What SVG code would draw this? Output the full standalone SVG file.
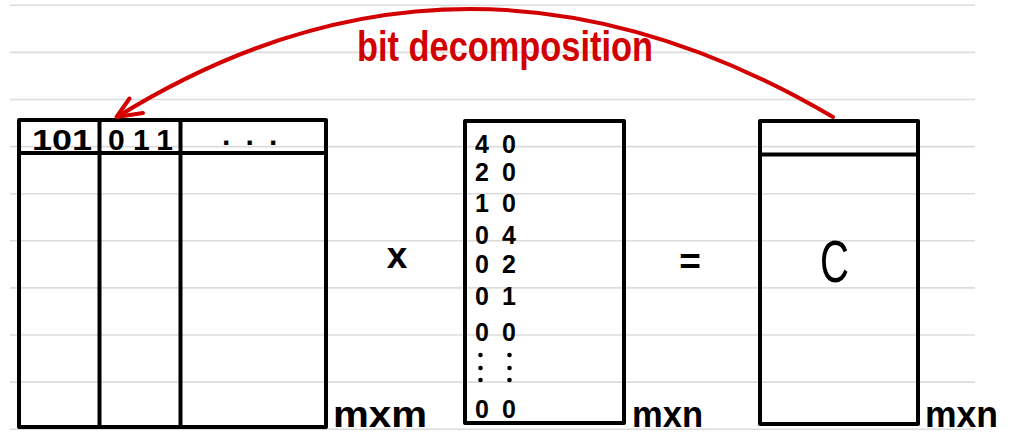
<svg xmlns="http://www.w3.org/2000/svg" width="1010" height="435" viewBox="0 0 1010 435">
<style>
.bg{stroke:#dcdcdc;stroke-width:1.6;fill:none}
.box{fill:none;stroke:#000;stroke-width:4;stroke-linejoin:round;stroke-linecap:round}
.dig{font-family:"Liberation Sans",Arial,sans-serif;font-weight:bold;fill:#000}
.lbl{font-family:"Liberation Sans",Arial,sans-serif;font-weight:bold;fill:#000;font-size:37px}
.dot{fill:#000}
.red{stroke:#d20000;fill:none;stroke-width:4;stroke-linecap:round;stroke-linejoin:round}
.redt{font-family:"Liberation Sans",Arial,sans-serif;font-weight:bold;fill:#d20000;font-size:43px}
</style>
<rect width="1010" height="435" fill="#fff"/>
<g id="background">
<line class="bg" x1="10" y1="5.3" x2="975" y2="5.3"/>
<line class="bg" x1="10" y1="52.4" x2="975" y2="52.4"/>
<line class="bg" x1="10" y1="99.5" x2="975" y2="99.5"/>
<line class="bg" x1="10" y1="146.6" x2="975" y2="146.6"/>
<line class="bg" x1="10" y1="193.7" x2="975" y2="193.7"/>
<line class="bg" x1="10" y1="240.8" x2="975" y2="240.8"/>
<line class="bg" x1="10" y1="287.9" x2="975" y2="287.9"/>
<line class="bg" x1="10" y1="335" x2="975" y2="335"/>
<line class="bg" x1="10" y1="382.1" x2="975" y2="382.1"/>
<line class="bg" x1="10" y1="429.2" x2="975" y2="429.2"/>
</g>
<g id="matrix-a">
<rect class="box" x="19" y="120" width="307" height="307"/>
<line class="box" x1="19" y1="153" x2="326" y2="153"/>
<line class="box" x1="99.5" y1="120" x2="99.5" y2="427"/>
<line class="box" x1="180.5" y1="120" x2="180.5" y2="427"/>
<text class="dig" x="32" y="149.5" font-size="30" textLength="60" lengthAdjust="spacingAndGlyphs">101</text>
<text class="dig" x="108" y="149.5" font-size="30" textLength="65" lengthAdjust="spacing">011</text>
<text class="dig" x="222" y="153" font-size="30" textLength="57" lengthAdjust="spacing">···</text>
<text class="lbl" x="333" y="426.5" textLength="94" lengthAdjust="spacingAndGlyphs">mxm</text>
</g>
<g id="op-times">
<text class="lbl" x="397" y="268" text-anchor="middle">x</text>
</g>
<g id="matrix-b">
<rect class="box" x="465" y="121" width="159" height="302"/>
<g class="dig" font-size="25">
<text x="475" y="153">4</text><text x="502" y="153">0</text>
<text x="475" y="181">2</text><text x="502" y="181">0</text>
<text x="475" y="212">1</text><text x="502" y="212">0</text>
<text x="475" y="244">0</text><text x="502" y="244">4</text>
<text x="475" y="273">0</text><text x="502" y="273">2</text>
<text x="475" y="305">0</text><text x="502" y="305">1</text>
<text x="475" y="341">0</text><text x="502" y="341">0</text>
<text x="475" y="418">0</text><text x="502" y="418">0</text>
</g>
<g class="dot">
<circle cx="480.5" cy="355" r="2.3"/>
<circle cx="480.5" cy="368" r="2.3"/>
<circle cx="480.5" cy="380" r="2.3"/>
<circle cx="509.5" cy="355" r="2.3"/>
<circle cx="509.5" cy="368" r="2.3"/>
<circle cx="509.5" cy="380" r="2.3"/>
</g>
<text class="lbl" x="632" y="426.5" textLength="71" lengthAdjust="spacingAndGlyphs">mxn</text>
</g>
<g id="op-equals">
<text class="lbl" x="690" y="274" text-anchor="middle" font-size="44">=</text>
</g>
<g id="matrix-c">
<rect class="box" x="760" y="121" width="158" height="303"/>
<line class="box" x1="760" y1="154.5" x2="918" y2="154.5"/>
<text x="820" y="282" font-family="'Liberation Sans',Arial,sans-serif" font-size="60" fill="#000" textLength="29" lengthAdjust="spacingAndGlyphs">C</text>
<text class="lbl" x="925" y="426.5" textLength="73" lengthAdjust="spacingAndGlyphs">mxn</text>
</g>
<g id="connectors">
<path class="red" d="M833,117 Q465,-99 117,117"/>
<path class="red" stroke-width="5" d="M129.5,98.5 L116.5,117 L143,113"/>
<text class="redt" x="357" y="61" textLength="296" lengthAdjust="spacingAndGlyphs">bit decomposition</text>
</g>
</svg>
